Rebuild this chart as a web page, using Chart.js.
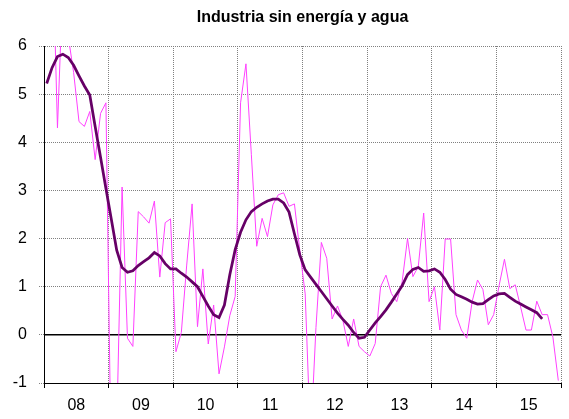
<!DOCTYPE html>
<html lang="es">
<head>
<meta charset="UTF-8">
<title>Industria sin energía y agua</title>
<script src="https://cdn.jsdelivr.net/npm/chart.js"></script>
    <style>
        * {
        margin: 0;
        padding: 0;
        box-sizing: border-box;
        }
        body {
        background-color: #fff;
        }
        canvas {
        display: block;
        }
    </style>
</head>
<body>
    <canvas id="chart" width="569" height="419"></canvas>

    <script>
        const titleText = 'Industria sin energía y agua';

        // años del eje X
        const years = ['08', '09', '10', '11', '12', '13', '14', '15'];

        // tasa mensual (línea fina)
        const monthly = [
            6.6, 8.5, 4.3, 7.3, 6.2, 5.45, 4.43, 4.33, 4.64, 3.64, 4.6, 4.82,
            -2.9, -2.0, 3.07, -0.07, -0.24, 2.56, 2.45, 2.32, 2.78, 1.2, 2.33, 2.41,
            -0.35, 0.05, 1.45, 2.72, 0.17, 1.37, -0.19, 0.62, -0.81, -0.25, 0.4, 0.8,
            4.82, 5.63, 3.75, 1.84, 2.42, 2.04, 2.7, 2.91, 2.95, 2.67, 2.72, 1.75,
            0.85, -2.2, 0.15, 1.92, 1.59, 0.33, 0.6, 0.3, -0.24, 0.33, -0.24, -0.35,
            -0.44, -0.18, 1.0, 1.24, 0.86, 0.69, 1.1, 2.0, 1.21, 1.42, 2.53, 0.69,
            1.0, 0.1, 1.99, 1.99, 0.42, 0.1, -0.07, 0.69, 1.14, 0.94, 0.21, 0.42,
            1.02, 1.57, 0.96, 1.04, 0.58, 0.1, 0.1, 0.7, 0.42, 0.42, -0.05, -0.95
        ];

        // tendencia (línea gruesa)
        const trend = [
            5.22, 5.55, 5.78, 5.83, 5.76, 5.6, 5.38, 5.17, 4.98, 4.33, 3.69, 3.04,
            2.4, 1.76, 1.4, 1.3, 1.33, 1.44, 1.52, 1.6, 1.71, 1.64, 1.48, 1.37,
            1.37, 1.28, 1.2, 1.1, 1.0, 0.8, 0.6, 0.42, 0.36, 0.62, 1.25, 1.77,
            2.13, 2.39, 2.56, 2.65, 2.72, 2.78, 2.82, 2.82, 2.74, 2.55, 2.1, 1.66,
            1.35, 1.2, 1.05, 0.9, 0.75, 0.6, 0.45, 0.32, 0.2, 0.05, -0.07, -0.05,
            0.1, 0.25, 0.38, 0.52, 0.68, 0.85, 1.02, 1.25, 1.36, 1.4, 1.32, 1.33,
            1.37, 1.3, 1.15, 0.95, 0.84, 0.79, 0.74, 0.68, 0.64, 0.65, 0.73, 0.81,
            0.85, 0.86, 0.78, 0.7, 0.64, 0.58, 0.52, 0.46, 0.33
        ];

        const totalMonths = years.length * 12;
        const toPoints = arr => arr.map((v, i) => ({x: i + 0.5, y: v}));
        const fontFamily = "'Liberation Sans', Arial, sans-serif";
        const font = {family: fontFamily, size: 16};

        // título centrado sobre el área de trazado
        const centeredTitle = {
            id: 'centeredTitle',
            afterDraw(chart) {
            const {ctx, chartArea} = chart;
            ctx.save();
            ctx.font = 'bold 16px ' + fontFamily;
            ctx.fillStyle = '#000';
            ctx.textAlign = 'center';
            ctx.textBaseline = 'middle';
            ctx.fillText(titleText, (chartArea.left + chartArea.right) / 2, 18);
            ctx.restore();
            }
        };

        const ctx = document.getElementById('chart').getContext('2d');
        new Chart(ctx, {
            type: 'line',
            data: {
            datasets: [{
                data: toPoints(trend),
                borderColor: '#660066',
                borderWidth: 2.75,
                pointRadius: 0,
                tension: 0
            }, {
                data: toPoints(monthly),
                borderColor: '#ff40ff',
                borderWidth: 1,
                pointRadius: 0,
                tension: 0
            }, {
                data: [{x: 0, y: 0}, {x: totalMonths, y: 0}],
                borderColor: '#000',
                borderWidth: 1.5,
                pointRadius: 0
            }]
            },
            plugins: [centeredTitle],
            options: {
            responsive: false,
            animation: false,
            layout: {padding: {left: 0, right: 6, top: 46, bottom: 0}},
            plugins: {
                legend: {display: false},
                tooltip: {enabled: false},
                title: {display: false}
            },
            scales: {
                x: {
                type: 'linear',
                min: 0,
                max: totalMonths,
                afterFit: s => { s.height = 36; },
                ticks: {
                    stepSize: 6,
                    autoSkip: false,
                    maxRotation: 0,
                    padding: 8,
                    color: '#000',
                    font: font,
                    callback: v => (v % 12 === 6 ? years[(v - 6) / 12] : '')
                },
                grid: {
                    color: c => (c.tick && c.tick.value % 12 === 0 ? '#808080' : 'rgba(0,0,0,0)'),
                    tickColor: c => (c.tick && c.tick.value % 12 === 0 ? '#000' : 'rgba(0,0,0,0)'),
                    tickLength: 5,
                    lineWidth: 1
                },
                border: {display: true, color: '#000', width: 1, dash: [1, 1]}
                },
                y: {
                min: -1,
                max: 6,
                afterFit: s => { s.width = 44; },
                ticks: {
                    stepSize: 1,
                    padding: 12,
                    color: '#000',
                    font: font
                },
                grid: {
                    color: '#808080',
                    tickColor: '#808080',
                    tickLength: 5,
                    tickBorderDash: [1, 1],
                    lineWidth: 1
                },
                border: {display: true, color: '#000', width: 1, dash: [1, 1]}
                }
            }
            }
        });
    </script>
</body>
</html>
